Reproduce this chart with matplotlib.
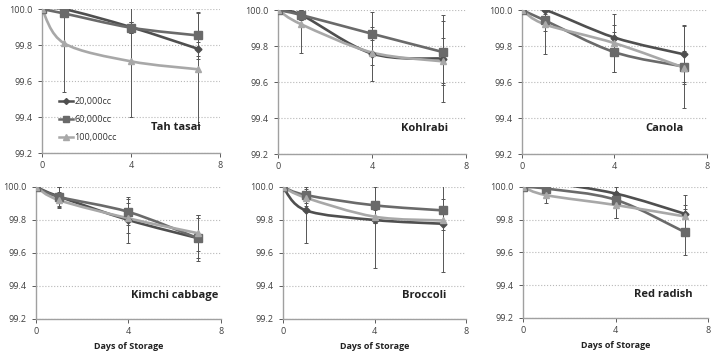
import matplotlib
matplotlib.use('Agg')
import matplotlib.pyplot as plt
import numpy as np
from matplotlib.path import Path
from matplotlib.patches import PathPatch
from matplotlib.lines import Line2D

plt.rcParams['font.family'] = ['Open Sans', 'DejaVu Sans']

# Data
days = [0, 1, 4, 7]
series = ['20,000cc', '60,000cc', '100,000cc']
panels = ['Tah tasai', 'Kohlrabi', 'Canola', 'Kimchi cabbage', 'Broccoli', 'Red radish']

values = {
    'Tah tasai': [[100.0, 100.0, 99.90, 99.78],
                  [100.0, 99.976, 99.897, 99.854],
                  [100.0, 99.81, 99.71, 99.666]],
    'Kohlrabi': [[100.0, 99.972, 99.758, 99.73],
                 [100.0, 99.972, 99.868, 99.767],
                 [100.0, 99.92, 99.764, 99.715]],
    'Canola': [[100.0, 100.0, 99.847, 99.754],
               [100.0, 99.942, 99.766, 99.686],
               [100.0, 99.92, 99.816, 99.68]],
    'Kimchi cabbage': [[100.0, 99.942, 99.80, 99.69],
                       [100.0, 99.94, 99.849, 99.69],
                       [100.0, 99.92, 99.81, 99.72]],
    'Broccoli': [[100.0, 99.858, 99.80, 99.777],
                 [100.0, 99.951, 99.889, 99.858],
                 [100.0, 99.935, 99.82, 99.797]],
    'Red radish': [[100.0, 100.025, 99.96, 99.836],
                   [100.0, 99.99, 99.922, 99.724],
                   [100.0, 99.95, 99.89, 99.82]],
}

errors = {
    'Tah tasai': [[0.0, 0.02, 0.03, 0.04],
                  [0.0, 0.02, 0.03, 0.13],
                  [0.0, 0.27, 0.31, 0.31]],
    'Kohlrabi': [[0.0, 0.03, 0.15, 0.24],
                 [0.0, 0.03, 0.12, 0.17],
                 [0.0, 0.16, 0.07, 0.13]],
    'Canola': [[0.0, 0.02, 0.07, 0.156],
               [0.0, 0.06, 0.11, 0.23],
               [0.0, 0.166, 0.16, 0.09]],
    'Kimchi cabbage': [[0.0, 0.06, 0.14, 0.12],
                       [0.0, 0.06, 0.08, 0.14],
                       [0.0, 0.05, 0.09, 0.11]],
    'Broccoli': [[0.0, 0.2, 0.29, 0.29],
                 [0.0, 0.05, 0.11, 0.07],
                 [0.0, 0.05, 0.04, 0.06]],
    'Red radish': [[0.0, 0.02, 0.04, 0.115],
                   [0.0, 0.02, 0.11, 0.14],
                   [0.0, 0.045, 0.08, 0.07]],
}

colors = ['#4f4f4f', '#6a6a6a', '#a8a8a8']
markers = ['D', 's', '^']
msizes = [3.5, 5.5, 4.5]

# axes positions [left, bottom, width, height] in figure fraction
positions = [
    [0.0587, 0.565, 0.249, 0.409],
    [0.3888, 0.5625, 0.263, 0.409],
    [0.730, 0.5625, 0.2587, 0.409],
    [0.0503, 0.0938, 0.2587, 0.375],
    [0.3958, 0.0938, 0.256, 0.375],
    [0.7315, 0.0968, 0.2587, 0.372],
]
title_x = [0.75, 0.78, 0.77, 0.75, 0.77, 0.76]


def smooth_path(x, y):
    # Excel-style smoothed line as cubic bezier segments through the points
    pts = np.column_stack([x, y]).astype(float)
    n = len(pts)
    verts = [pts[0]]
    codes = [Path.MOVETO]
    for i in range(n - 1):
        p0 = pts[max(i - 1, 0)]
        p1 = pts[i]
        p2 = pts[i + 1]
        p3 = pts[min(i + 2, n - 1)]
        verts += [p1 + (p2 - p0) / 6, p2 - (p3 - p1) / 6, p2]
        codes += [Path.CURVE4] * 3
    return Path(verts, codes)


fig = plt.figure(figsize=(7.15, 3.52), dpi=100)

for k, name in enumerate(panels):
    ax = fig.add_axes(positions[k])
    for s in range(3):
        y = values[name][s]
        e = errors[name][s]
        ax.errorbar(days, y, yerr=e, fmt='none', ecolor='#555555',
                    elinewidth=0.7, capsize=1.5, capthick=0.7, zorder=2)
        ax.add_patch(PathPatch(smooth_path(days, y), fill=False,
                               edgecolor=colors[s], lw=1.9, zorder=3))
        ax.plot(days, y, ls='none', marker=markers[s], ms=msizes[s],
                color=colors[s], zorder=4)

    ax.set_xlim(0, 8)
    ax.set_ylim(99.2, 100.0)
    ax.set_xticks([0, 4, 8])
    ax.set_yticks([99.2, 99.4, 99.6, 99.8, 100.0])
    ax.set_yticklabels(['99.2', '99.4', '99.6', '99.8', '100.0'])
    ax.tick_params(labelsize=6.5, colors='#404040', length=3, width=0.6,
                   direction='out')
    ax.tick_params(axis='x', pad=3)
    ax.grid(axis='y', linestyle=':', color='#b8b8b8', lw=0.8)
    ax.set_axisbelow(True)
    for side in ['top', 'right']:
        ax.spines[side].set_visible(False)
    for side in ['left', 'bottom']:
        ax.spines[side].set_color('#a0a0a0')
        ax.spines[side].set_linewidth(1.0)

    ax.text(title_x[k], 0.18, name, transform=ax.transAxes, ha='center',
            va='center', fontsize=8, fontweight='bold', color='#222222')

    if k >= 3:
        ax.set_xlabel('Days of Storage', fontsize=6.5, fontweight='bold',
                      color='#222222', labelpad=4)

    if k == 0:
        handles = [Line2D([], [], color=colors[s], marker=markers[s],
                          ms=msizes[s] - 0.5, lw=1.8) for s in range(3)]
        ax.legend(handles, series, loc='lower left',
                  bbox_to_anchor=(0.05, 0.02), frameon=False, fontsize=6.5,
                  labelspacing=1.0, handlelength=1.6, handletextpad=0.1,
                  labelcolor='#333333')

fig.savefig('out.png', dpi=100)
